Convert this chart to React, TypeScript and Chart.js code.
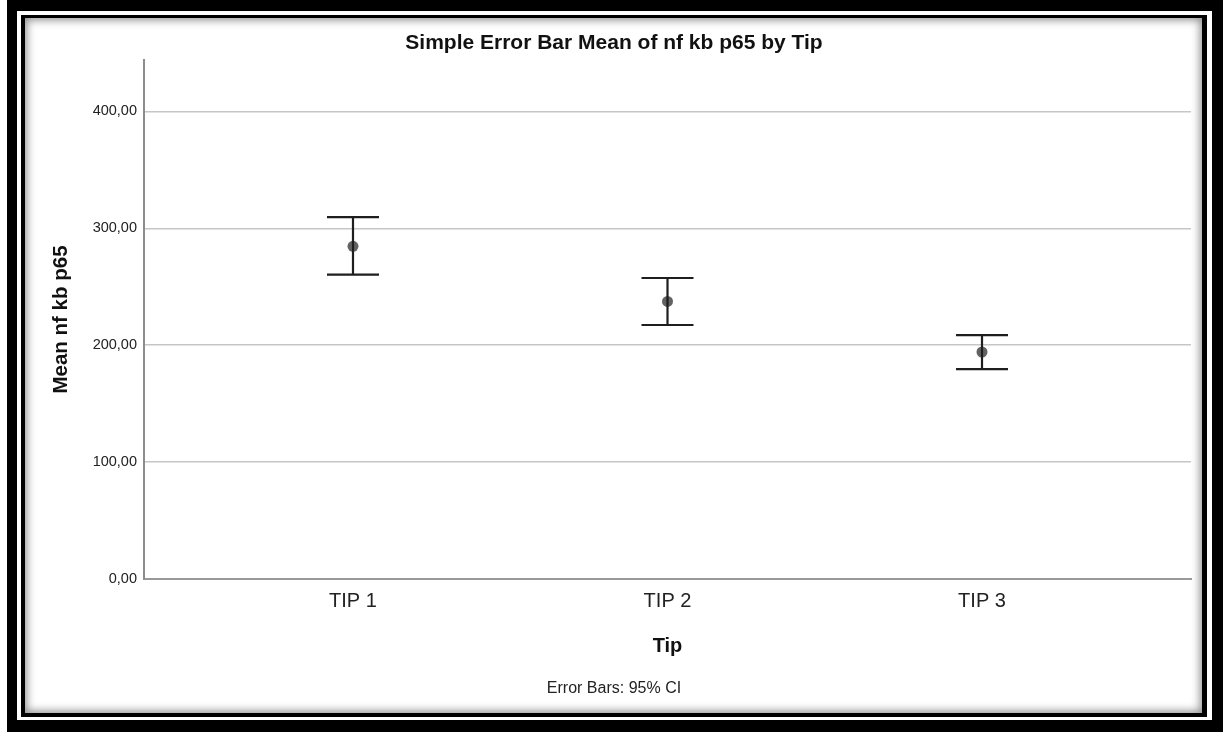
import React, { useEffect, useRef } from "react";
import { Chart, registerables } from "chart.js";

Chart.register(...registerables);

const categories = ["TIP 1", "TIP 2", "TIP 3"];
const means = [284.6, 237.5, 194.2];
const ciLower = [260.4, 217.3, 179.6];
const ciUpper = [309.5, 257.5, 208.7];
const yTicks = [0, 100, 200, 300, 400];
const xPositions = [1, 2, 3];

const FONT = "'Liberation Sans', Arial, sans-serif";

const errorBarPlugin = {
  id: "errorBars",
  afterDatasetsDraw(chart: any) {
    const ctx = chart.ctx;
    const xs = chart.scales.x;
    const ys = chart.scales.y;
    ctx.save();
    ctx.strokeStyle = "#1e1e1e";
    ctx.lineWidth = 2.2;
    ctx.lineCap = "butt";
    const half = 26;
    xPositions.forEach((xv, i) => {
      const px = xs.getPixelForValue(xv);
      const top = ys.getPixelForValue(ciUpper[i]);
      const bot = ys.getPixelForValue(ciLower[i]);
      ctx.beginPath();
      ctx.moveTo(px, top);
      ctx.lineTo(px, bot);
      ctx.moveTo(px - half, top);
      ctx.lineTo(px + half, top);
      ctx.moveTo(px - half, bot);
      ctx.lineTo(px + half, bot);
      ctx.stroke();
    });
    ctx.restore();
  },
};

export default function App() {
  const ref = useRef<HTMLCanvasElement>(null);

  useEffect(() => {
    if (!ref.current) return;
    const chart = new Chart(ref.current, {
      type: "scatter",
      data: {
        datasets: [
          {
            data: xPositions.map((x, i) => ({ x, y: means[i] })),
            pointRadius: 5.5,
            pointBackgroundColor: "rgba(70,70,70,0.85)",
            pointBorderWidth: 0,
            showLine: false,
          },
        ],
      },
      options: {
        animation: false,
        responsive: false,
        events: [],
        layout: { padding: { left: 0, right: 0, top: 0, bottom: 0 } },
        plugins: {
          legend: { display: false },
          tooltip: { enabled: false },
          title: {
            display: true,
            text: "Simple Error Bar Mean of nf kb p65 by Tip",
            color: "#111",
            font: { family: FONT, size: 21, weight: "bold" },
            padding: { top: 30.4, bottom: 4.4 },
          },
          subtitle: {
            display: true,
            position: "bottom",
            text: "Error Bars: 95% CI",
            color: "#222",
            font: { family: FONT, size: 16, weight: "normal" },
            padding: { top: 21.4, bottom: 33.4 },
          },
        },
        scales: {
          x: {
            type: "linear",
            min: 0.3355,
            max: 3.6645,
            afterBuildTicks: (scale: any) => {
              scale.ticks = xPositions.map((v) => ({ value: v }));
            },
            afterFit: (scale: any) => {
              scale.height = 79;
            },
            grid: { display: false, drawTicks: false },
            border: { display: true, color: "#999", width: 2 },
            ticks: {
              padding: 10,
              color: "#222",
              font: { family: FONT, size: 20 },
              callback: (v: any) => {
                const idx = xPositions.indexOf(Number(v));
                return idx >= 0 ? categories[idx] : "";
              },
            },
            title: {
              display: true,
              text: "Tip",
              color: "#111",
              font: { family: FONT, size: 20, weight: "bold" },
              padding: { top: 0, bottom: 0 },
            },
          },
          y: {
            type: "linear",
            min: 0,
            max: 444,
            afterBuildTicks: (scale: any) => {
              scale.ticks = yTicks.map((v) => ({ value: v }));
            },
            afterFit: (scale: any) => {
              scale.width = 144;
            },
            grid: { color: "#c6c6c6", lineWidth: 1.6, drawTicks: false },
            border: { display: true, color: "#8c8c8c", width: 2 },
            ticks: {
              padding: 7,
              color: "#222",
              font: { family: FONT, size: 14.5 },
              callback: (v: any) => Number(v).toFixed(2).replace(".", ","),
            },
            title: {
              display: true,
              text: "Mean nf kb p65",
              color: "#111",
              font: { family: FONT, size: 20.5, weight: "bold" },
              padding: { top: 49, bottom: 0 },
            },
          },
          yRight: {
            type: "linear",
            position: "right",
            display: true,
            afterFit: (scale: any) => {
              scale.width = 37;
            },
            grid: { display: false, drawTicks: false },
            border: { display: false },
            ticks: { display: false },
          },
        },
      },
      plugins: [errorBarPlugin],
    });
    return () => chart.destroy();
  }, []);

  const abs = (l: number, t: number, w: number, h: number, extra: any = {}) => ({
    position: "absolute" as const,
    left: l,
    top: t,
    width: w,
    height: h,
    ...extra,
  });

  return (
    <div style={abs(0, 0, 1228, 732, { background: "#fff", overflow: "hidden" })}>
      <div style={abs(7, 0, 1216, 732, { background: "#000" })} />
      <div style={abs(17, 11, 1195, 709, { background: "#fff" })} />
      <div style={abs(21, 15, 1186, 702, { background: "#000" })} />
      <div
        style={abs(25, 18, 1177, 695, {
          background: "#fff",
          boxShadow: "inset 0 0 8px 2px rgba(0,0,0,0.45)",
        })}
      />
      <canvas ref={ref} width={1228} height={732} style={abs(0, 0, 1228, 732)} />
    </div>
  );
}
